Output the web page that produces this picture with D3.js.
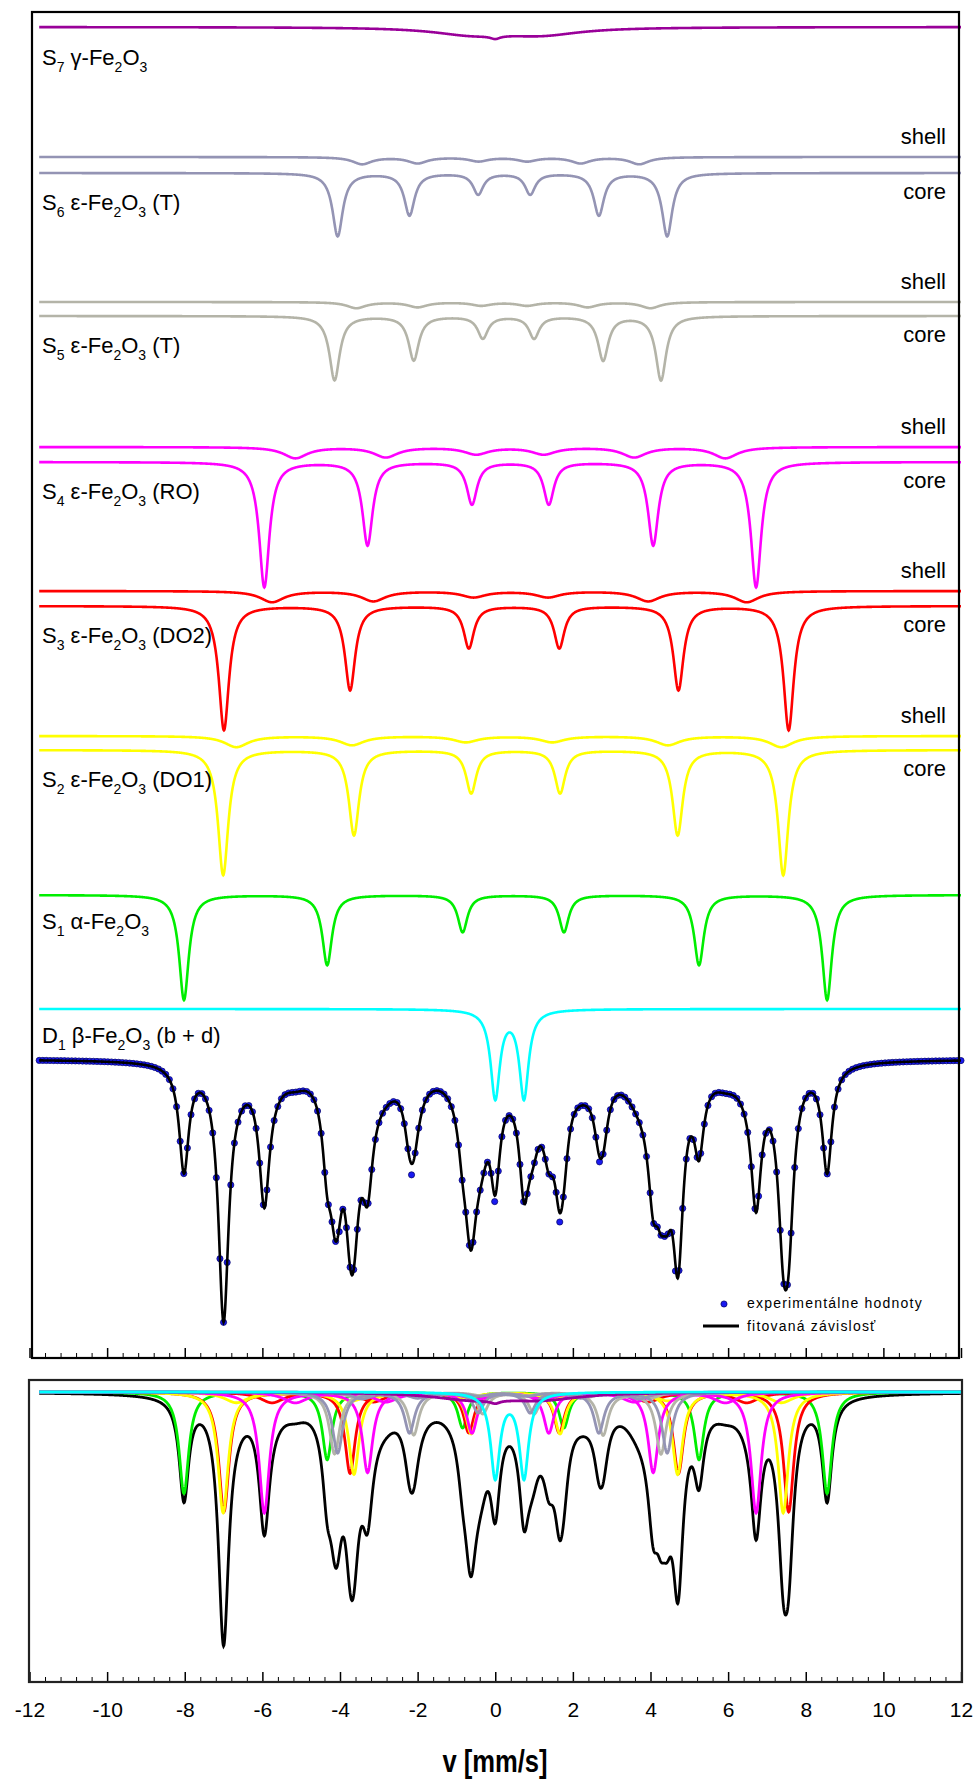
<!DOCTYPE html>
<html>
<head>
<meta charset="utf-8">
<script src="https://cdn.jsdelivr.net/npm/d3@7"></script>
<style>
  body { margin: 0; background: #fff; }
  svg { display: block; font-family: "Liberation Sans", Arial, sans-serif; }
</style>
</head>
<body>
<div id="chart"></div>
<script>
// ---------------------------------------------------------------- data
// velocity axis [mm/s]
const velocityTicks = [-12, -10, -8, -6, -4, -2, 0, 2, 4, 6, 8, 10, 12];
const velocitySpan = [-11.75, 12.0];
const channelCount = 256;

// fitted sub-spectra : line positions [mm/s], depths [% absorption], widths FWHM [mm/s]
const s1Pos = [-8.02, -4.33, -0.84, 1.77, 5.25, 8.55];
const s1Depth = [5.25, 3.5, 1.85, 1.85, 3.5, 5.25];
const s1Width = 0.30;

const s2CorePos = [-7.01, -3.64, -0.62, 1.67, 4.70, 7.42];
const s2CoreDepth = [6.25, 4.25, 2.15, 2.15, 4.25, 6.25];
const s2ShellPos = [-6.67, -3.69, -0.76, 1.47, 4.45, 7.37];
const s2ShellDepth = [0.55, 0.45, 0.30, 0.30, 0.45, 0.55];

const s3CorePos = [-6.99, -3.74, -0.68, 1.65, 4.72, 7.56];
const s3CoreDepth = [6.2, 4.2, 2.1, 2.1, 4.2, 6.2];
const s3ShellPos = [-5.75, -3.14, -0.56, 1.36, 3.94, 6.48];
const s3ShellDepth = [0.55, 0.50, 0.30, 0.30, 0.50, 0.55];

const s4CorePos = [-5.95, -3.29, -0.60, 1.38, 4.07, 6.72];
const s4CoreDepth = [6.25, 4.15, 2.1, 2.1, 4.15, 6.25];
const s4ShellPos = [-5.15, -2.82, -0.49, 1.25, 3.58, 5.93];
const s4ShellDepth = [0.55, 0.50, 0.35, 0.35, 0.50, 0.55];

const s5CorePos = [-4.14, -2.10, -0.32, 1.00, 2.78, 4.27];
const s5CoreDepth = [3.2, 2.2, 1.1, 1.1, 2.2, 3.2];
const s5ShellPos = [-3.58, -2.00, -0.36, 0.82, 2.38, 4.00];
const s5ShellDepth = [0.30, 0.25, 0.17, 0.17, 0.25, 0.30];

const s6CorePos = [-4.06, -2.21, -0.44, 0.90, 2.67, 4.43];
const s6CoreDepth = [3.15, 2.1, 1.05, 1.05, 2.1, 3.15];
const s6ShellPos = [-3.43, -2.00, -0.43, 0.82, 2.20, 3.71];
const s6ShellDepth = [0.35, 0.30, 0.20, 0.20, 0.30, 0.35];

const s7Pos = [-0.6, 1.2, 0.0];
const s7Depth = [0.35, 0.35, 0.15];
const s7Width = [2.4, 2.4, 0.3];

const d1Pos = [0.0, 0.74];
const d1Depth = [4.4, 4.4];
const d1Width = 0.29;

const coreWidth = 0.32;
const shellWidth = 0.75;
const smallShellWidth = 0.6;

// points that sit visibly off the fit : [velocity, extra absorption %]
const expOffsets = [[-2.13, 0.55], [-0.05, 0.3], [1.62, 0.45], [4.66, 0.35], [2.66, 0.25], [-4.05, 0.2]];

// texts
const formulaLabels = ['S_7 γ-Fe_2O_3', 'S_6 ε-Fe_2O_3 (T)', 'S_5 ε-Fe_2O_3 (T)', 'S_4 ε-Fe_2O_3 (RO)',
    'S_3 ε-Fe_2O_3 (DO2)', 'S_2 ε-Fe_2O_3 (DO1)', 'S_1 α-Fe_2O_3', 'D_1 β-Fe_2O_3 (b + d)'];
const legendLabels = ['experimentálne hodnoty', 'fitovaná závislosť'];
const axisTitle = 'v [mm/s]';

// ---------------------------------------------------------------- components
const components = [
    { id: 'S7', pos: s7Pos, depth: s7Depth, width: s7Width, color: '#990099' },
    { id: 'S6s', pos: s6ShellPos, depth: s6ShellDepth, width: smallShellWidth, color: '#9494b4' },
    { id: 'S6c', pos: s6CorePos, depth: s6CoreDepth, width: coreWidth, color: '#9494b4' },
    { id: 'S5s', pos: s5ShellPos, depth: s5ShellDepth, width: smallShellWidth, color: '#b4b4a8' },
    { id: 'S5c', pos: s5CorePos, depth: s5CoreDepth, width: coreWidth, color: '#b4b4a8' },
    { id: 'S4s', pos: s4ShellPos, depth: s4ShellDepth, width: shellWidth, color: '#ff00ff' },
    { id: 'S4c', pos: s4CorePos, depth: s4CoreDepth, width: coreWidth, color: '#ff00ff' },
    { id: 'S3s', pos: s3ShellPos, depth: s3ShellDepth, width: shellWidth, color: '#ff0000' },
    { id: 'S3c', pos: s3CorePos, depth: s3CoreDepth, width: coreWidth, color: '#ff0000' },
    { id: 'S2s', pos: s2ShellPos, depth: s2ShellDepth, width: shellWidth, color: '#ffff00' },
    { id: 'S2c', pos: s2CorePos, depth: s2CoreDepth, width: coreWidth, color: '#ffff00' },
    { id: 'S1', pos: s1Pos, depth: s1Depth, width: s1Width, color: '#00ee00' },
    { id: 'D1', pos: d1Pos, depth: d1Depth, width: d1Width, color: '#00ffff' }
];

// stacking of the upper panel (value of each baseline, same units as absorption)
const stackBase = {
    S7: 66.55, S6s: 60.05, S6c: 59.25, S5s: 52.8, S5c: 52.1, S4s: 45.55, S4c: 44.8,
    S3s: 38.35, S3c: 37.6, S2s: 31.1, S2c: 30.4, S1: 23.15, D1: 17.45, total: 14.95
};
// order of drawing in the lower panel
const overlayOrder = ['S1', 'S3s', 'S3c', 'S2s', 'S2c', 'S4s', 'S4c', 'S5s', 'S5c', 'S6s', 'S6c', 'S7', 'D1'];

// Lorentzian absorption of one component at velocity v
function absorption(c, v) {
    let a = 0;
    c.pos.forEach((p, i) => {
        const w = Array.isArray(c.width) ? c.width[i] : c.width;
        const t = (v - p) / (w / 2);
        a += c.depth[i] / (1 + t * t);
    });
    return a;
}
const totalAbsorption = v => d3.sum(components, c => absorption(c, v));

// ---------------------------------------------------------------- layout
const W = 975, H = 1780;
const topBox = { x0: 32, x1: 959, y0: 12, y1: 1358 };
const botBox = { x0: 29, x1: 962, y0: 1380, y1: 1682 };

const svg = d3.select('#chart').append('svg').attr('width', W).attr('height', H);

const x = d3.scaleLinear([-12, 12], [29.5, 961]);
const yTop = d3.scaleLinear([0, 67.3], [topBox.y1, topBox.y0]);          // 20 px per %
const yBottom = d3.scaleLinear([-15.03, 0.62], [botBox.y1, botBox.y0]);  // baseline 0

const fine = d3.range(velocitySpan[0], velocitySpan[1] + 1e-9, 0.01);
const step = (velocitySpan[1] - velocitySpan[0]) / (channelCount - 1);
const channels = d3.range(channelCount).map(i => velocitySpan[0] + i * step);

// ---------------------------------------------------------------- upper panel
const gTop = svg.append('g');

components.forEach(c => {
    const line = d3.line().x(v => x(v)).y(v => yTop(stackBase[c.id] - absorption(c, v)));
    gTop.append('path').datum(fine)
        .attr('fill', 'none').attr('stroke', c.color).attr('stroke-width', 2.6)
        .attr('d', line);
});

// experimental points and fit
const expPoints = channels.map(v => {
    let a = totalAbsorption(v);
    expOffsets.forEach(([ov, da]) => { if (Math.abs(ov - v) < step / 2) a += da; });
    return { v, a };
});
gTop.append('g').selectAll('circle').data(expPoints).join('circle')
    .attr('cx', d => x(d.v)).attr('cy', d => yTop(stackBase.total - d.a))
    .attr('r', 3.1).attr('fill', '#1a1af0').attr('stroke', '#000060').attr('stroke-width', 0.7);

gTop.append('path').datum(fine)
    .attr('fill', 'none').attr('stroke', '#000').attr('stroke-width', 2.6)
    .attr('d', d3.line().x(v => x(v)).y(v => yTop(stackBase.total - totalAbsorption(v))));

// formula labels, subscripts marked with "_"
function appendFormula(sel, str) {
    let sub = false;
    str.split(/(_.)/).filter(s => s).forEach(p => {
        if (p[0] === '_') {
            sel.append('tspan').attr('font-size', 14).attr('dy', sub ? 0 : 7).text(p[1]);
            sub = true;
        } else {
            sel.append('tspan').attr('dy', sub ? -7 : 0).text(p);
            sub = false;
        }
    });
}
const labelBases = ['S7', 'S6c', 'S5c', 'S4c', 'S3c', 'S2c', 'S1', 'D1'];
const labelGap = [38, 37, 37, 37, 37, 37, 34, 34];
labelBases.forEach((id, i) => {
    const t = gTop.append('text')
        .attr('x', 42).attr('y', yTop(stackBase[id]) + labelGap[i])
        .attr('font-size', 22).attr('fill', '#000');
    appendFormula(t, formulaLabels[i]);
});

['S6', 'S5', 'S4', 'S3', 'S2'].forEach(id => {
    gTop.append('text').attr('x', 946).attr('y', yTop(stackBase[id + 's']) - 13)
        .attr('text-anchor', 'end').attr('font-size', 22).text('shell');
    gTop.append('text').attr('x', 946).attr('y', yTop(stackBase[id + 'c']) + 26)
        .attr('text-anchor', 'end').attr('font-size', 22).text('core');
});

// legend
const legend = gTop.append('g').attr('font-size', 14).attr('letter-spacing', 1.2);
legend.append('circle').attr('cx', 724).attr('cy', 1304).attr('r', 3.1)
    .attr('fill', '#1a1af0').attr('stroke', '#000060').attr('stroke-width', 0.7);
legend.append('line').attr('x1', 703).attr('x2', 739).attr('y1', 1326).attr('y2', 1326)
    .attr('stroke', '#000').attr('stroke-width', 3);
legend.append('text').attr('x', 747).attr('y', 1308).text(legendLabels[0]);
legend.append('text').attr('x', 747).attr('y', 1331).text(legendLabels[1]);

// ---------------------------------------------------------------- lower panel
const gBot = svg.append('g');
gBot.append('path').datum(fine)
    .attr('fill', 'none').attr('stroke', '#000').attr('stroke-width', 2.8)
    .attr('d', d3.line().x(v => x(v)).y(v => yBottom(-totalAbsorption(v))));

overlayOrder.forEach(id => {
    const c = components.find(d => d.id === id);
    gBot.append('path').datum(fine)
        .attr('fill', 'none').attr('stroke', c.color).attr('stroke-width', 2.8)
        .attr('d', d3.line().x(v => x(v)).y(v => yBottom(-absorption(c, v))));
});

// ---------------------------------------------------------------- frames and axes
const minorTicks = [];
velocityTicks.slice(1).forEach((t, i) => {
    const t0 = velocityTicks[i];
    for (let k = 1; k < 5; k++) minorTicks.push(t0 + (t - t0) * k / 5);
});

function drawTicks(y, withLabels) {
    const major = svg.append('g').attr('transform', `translate(0,${y})`)
        .call(d3.axisBottom(x).tickValues(velocityTicks).tickSize(-10).tickSizeOuter(0)
            .tickPadding(20).tickFormat(withLabels ? d => String(d) : ''));
    svg.append('g').attr('transform', `translate(0,${y})`)
        .call(d3.axisBottom(x).tickValues(minorTicks).tickSize(-5).tickSizeOuter(0).tickFormat(''))
        .call(g => g.select('.domain').remove());
    major.select('.domain').remove();
    major.selectAll('line').attr('stroke', '#000').attr('stroke-width', 1.5);
    major.selectAll('text').attr('font-size', 21).attr('font-family', '"Liberation Sans", Arial, sans-serif')
        .attr('fill', '#000');
}
drawTicks(topBox.y1, false);
drawTicks(botBox.y1, true);

svg.append('rect').attr('x', topBox.x0).attr('y', topBox.y0)
    .attr('width', topBox.x1 - topBox.x0).attr('height', topBox.y1 - topBox.y0)
    .attr('fill', 'none').attr('stroke', '#000').attr('stroke-width', 2.2);
svg.append('rect').attr('x', botBox.x0).attr('y', botBox.y0)
    .attr('width', botBox.x1 - botBox.x0).attr('height', botBox.y1 - botBox.y0)
    .attr('fill', 'none').attr('stroke', '#222').attr('stroke-width', 2.2);

// axis title, narrow bold face
svg.append('text').attr('transform', 'translate(495,1772) scale(0.8,1)')
    .attr('text-anchor', 'middle')
    .attr('font-size', 32).attr('font-weight', 'bold').text(axisTitle);
</script>
</body>
</html>
